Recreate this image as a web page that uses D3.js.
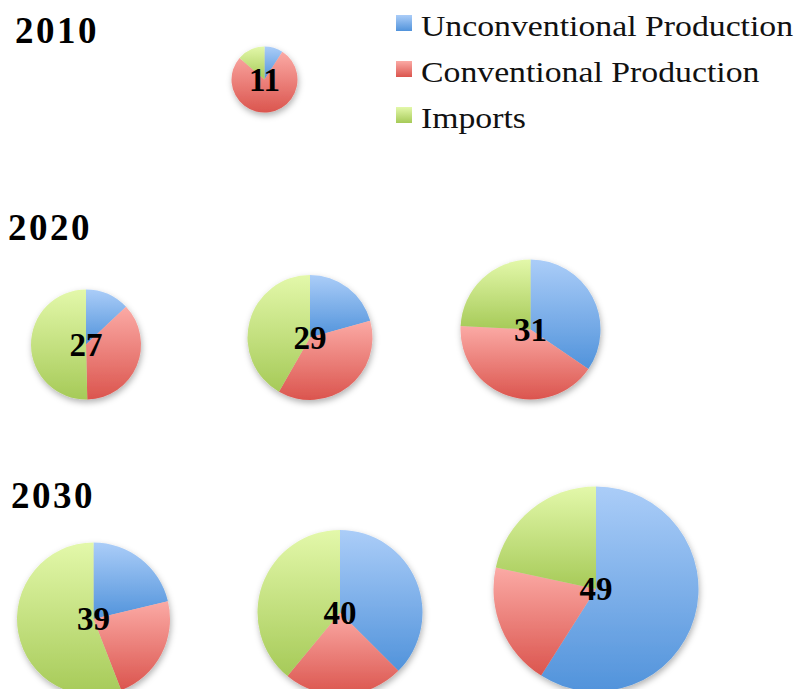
<!DOCTYPE html>
<html>
<head>
<meta charset="utf-8">
<script src="https://cdn.jsdelivr.net/npm/d3@7"></script>
<style>
  html, body { margin: 0; padding: 0; background: #fff; }
  svg { display: block; }
</style>
</head>
<body>
<svg id="chart" width="799" height="689"></svg>
<script>
// Supply sources by scenario (each pie), read clockwise from 12 o'clock
const sources = ["Unconventional Production", "Conventional Production", "Imports"];
const yearLabels = ["2010", "2020", "2030"];
const pieYear = ["2010", "2020", "2020", "2020", "2030", "2030", "2030"];
const totals = [11, 27, 29, 31, 39, 40, 49];
const unconventional = [1.0, 3.5, 6.0, 10.7, 8.3, 15.0, 28.9];
const conventional   = [8.5, 9.9, 10.9, 12.8, 8.9, 9.4, 9.5];
const imports        = [1.5, 13.6, 12.1, 7.5, 21.8, 15.6, 10.6];

// Layout of the pies on the page (centre and radius in px)
const layout = [
  { cx: 264.5, cy: 79.5,  r: 33 },
  { cx: 86,    cy: 344.5, r: 55 },
  { cx: 310,   cy: 337.5, r: 62.5 },
  { cx: 530.5, cy: 329.5, r: 70 },
  { cx: 93.5,  cy: 619,   r: 76.5 },
  { cx: 340,   cy: 612.5, r: 82.5 },
  { cx: 596,   cy: 589,   r: 102.5 }
];
const titlePos = { "2010": [15, 43], "2020": [8, 240], "2030": [11, 508] };

const svg = d3.select("#chart");
const defs = svg.append("defs");

// Vertical light-to-dark gradient per source
const palette = [
  { id: "g-unconv", top: "#abcdf8", bottom: "#5193db" },
  { id: "g-conv",   top: "#fbaaa5", bottom: "#db554e" },
  { id: "g-imp",    top: "#e3f8aa", bottom: "#a6ca58" }
];
palette.forEach(p => {
  const g = defs.append("linearGradient").attr("id", p.id)
    .attr("x1", 0).attr("y1", 0).attr("x2", 0).attr("y2", 1);
  g.append("stop").attr("offset", "0%").attr("stop-color", p.top);
  g.append("stop").attr("offset", "100%").attr("stop-color", p.bottom);
});
const color = d3.scaleOrdinal().domain(sources).range(palette.map(p => `url(#${p.id})`));

const shadow = defs.append("filter").attr("id", "shadow")
  .attr("x", "-20%").attr("y", "-20%").attr("width", "140%").attr("height", "150%");
shadow.append("feDropShadow").attr("dx", 1).attr("dy", 3).attr("stdDeviation", 3)
  .attr("flood-color", "#000").attr("flood-opacity", 0.3);

// Year titles
svg.selectAll("text.year").data(yearLabels).join("text")
  .attr("class", "year")
  .attr("x", d => titlePos[d][0]).attr("y", d => titlePos[d][1])
  .attr("font-family", "'Liberation Serif', 'Times New Roman', serif")
  .attr("font-weight", "bold").attr("font-size", 37)
  .attr("letter-spacing", 2.5)
  .attr("fill", "#000")
  .text(d => d);

const pie = d3.pie().sort(null).value(d => d.value);

const pies = totals.map((t, i) => ({
  year: pieYear[i],
  total: t,
  parts: [
    { key: sources[0], value: unconventional[i] },
    { key: sources[1], value: conventional[i] },
    { key: sources[2], value: imports[i] }
  ],
  ...layout[i]
}));

const pg = svg.selectAll("g.pie").data(pies).join("g")
  .attr("class", "pie")
  .attr("transform", d => `translate(${d.cx},${d.cy})`);

pg.append("g").attr("filter", "url(#shadow)")
  .each(function (d) {
    const arc = d3.arc().innerRadius(0).outerRadius(d.r);
    d3.select(this).selectAll("path").data(pie(d.parts)).join("path")
      .attr("d", arc)
      .attr("fill", s => color(s.data.key));
  });

pg.append("text")
  .attr("text-anchor", "middle")
  .attr("dy", "0.34em")
  .attr("font-family", "'Liberation Serif', 'Times New Roman', serif")
  .attr("font-weight", "bold").attr("font-size", 33)
  .attr("fill", "#000")
  .text(d => d.total);

// Legend
const legend = svg.append("g").attr("transform", "translate(396,0)");
const li = legend.selectAll("g").data(sources).join("g")
  .attr("transform", (d, i) => `translate(0,${36 + i * 46})`);
li.append("rect").attr("x", 0).attr("y", -21).attr("width", 16).attr("height", 16)
  .attr("fill", d => color(d));
li.append("text").attr("x", 25).attr("y", 0)
  .attr("font-family", "'Liberation Serif', 'Times New Roman', serif")
  .attr("font-size", 30).attr("fill", "#111")
  .text(d => d)
  .each(function () {
    // widen the serif face slightly for a rounder, book-style look
    const w = this.getComputedTextLength();
    d3.select(this).attr("textLength", w * 1.125).attr("lengthAdjust", "spacingAndGlyphs");
  });
</script>
</body>
</html>
